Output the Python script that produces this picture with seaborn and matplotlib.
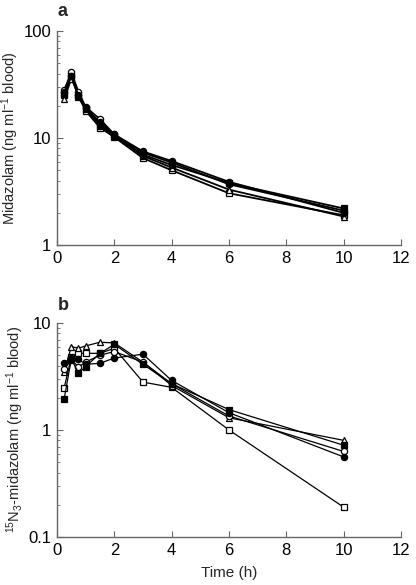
import numpy as np
import pandas as pd
import matplotlib
matplotlib.use("Agg")
import matplotlib.pyplot as plt
import seaborn as sns

sns.set_theme(style="ticks")
plt.rcParams['font.family'] = ['Liberation Sans', 'DejaVu Sans']
plt.rcParams['mathtext.fontset'] = 'custom'
plt.rcParams['mathtext.rm'] = 'Liberation Sans'
plt.rcParams['mathtext.it'] = 'Liberation Sans'

time_h = [0.25, 0.5, 0.75, 1, 1.5, 2, 3, 4, 6, 10]
subjects = ["filled circle", "open circle", "filled square", "open square", "open triangle"]

# Panel a: midazolam (ng/ml blood)
mdz_filled_circle = [27, 38, 25, 19, 14, 10.8, 7.5, 6.1, 3.9, 2.0]
mdz_open_circle   = [28, 41, 27, 19.5, 15, 10.8, 7.3, 5.9, 3.7, 2.1]
mdz_filled_square = [26, 38, 24, 18.5, 13, 10.5, 7.0, 5.6, 3.8, 2.2]
mdz_open_square   = [25, 37, 25, 18, 12.5, 10.2, 6.5, 5.0, 3.05, 1.9]
mdz_open_triangle = [23, 36, 26, 19, 13.5, 10.5, 6.8, 5.3, 3.3, 1.85]

# Panel b: 15N3-midazolam (ng/ml blood)
n15_filled_circle = [4.2, 4.7, 4.6, 4.1, 4.2, 4.7, 5.1, 2.9, 1.45, 0.56]
n15_open_circle   = [3.7, 4.5, 3.9, 4.3, 5.0, 5.4, 4.3, 2.7, 1.35, 0.63]
n15_filled_square = [1.95, 4.6, 3.4, 3.9, 5.2, 6.3, 4.1, 2.7, 1.55, 0.72]
n15_open_square   = [2.47, 4.8, 5.2, 5.2, 5.2, 5.8, 2.8, 2.5, 1.0, 0.19]
n15_open_triangle = [3.5, 6.0, 5.8, 6.1, 6.6, 6.5, 4.3, 2.6, 1.3, 0.8]

panel_a = [mdz_open_square, mdz_open_triangle, mdz_open_circle, mdz_filled_square, mdz_filled_circle]
panel_b = [n15_open_square, n15_open_triangle, n15_open_circle, n15_filled_square, n15_filled_circle]
order = ["open square", "open triangle", "open circle", "filled square", "filled circle"]
marker_of = {"filled circle": ("o", "black"), "open circle": ("o", "white"),
             "filled square": ("s", "black"), "open square": ("s", "white"),
             "open triangle": ("^", "white")}

fig = plt.figure(figsize=(4.16, 5.85), dpi=100)
ax_a = fig.add_axes([0.137, 0.581, 0.827, 0.366])
ax_b = fig.add_axes([0.137, 0.082, 0.827, 0.366])

def draw(ax, series, lw):
    for name, vals in zip(order, series):
        df = pd.DataFrame({"t": time_h, "c": vals})
        m, fc = marker_of[name]
        sns.lineplot(data=df, x="t", y="c", ax=ax, color="black", linewidth=lw,
                     marker=m, markersize=4.5 if m != "^" else 5,
                     markerfacecolor=fc, markeredgecolor="black", markeredgewidth=0.9,
                     legend=False)
    ax.set_yscale("log")
    ax.set_xlim(0, 12)
    ax.set_xticks([0, 2, 4, 6, 8, 10, 12])
    for s in ["top", "right"]:
        ax.spines[s].set_visible(False)
    for s in ["left", "bottom"]:
        ax.spines[s].set_color("#666666")
        ax.spines[s].set_linewidth(1.0)
    ax.tick_params(axis="both", which="both", direction="in", colors="#666666",
                   labelcolor="black", labelsize=12)
    ax.tick_params(axis="both", which="major", length=4, width=0.8, pad=4)
    ax.tick_params(axis="y", which="minor", length=2.5, width=0.6)
    ax.set_xlabel("")
    ax.yaxis.set_major_formatter(matplotlib.ticker.FuncFormatter(lambda v, p: f"{v:g}"))
    ax.yaxis.set_minor_formatter(matplotlib.ticker.NullFormatter())

draw(ax_a, panel_a, 1.3)
ax_a.set_ylim(1, 100)
ax_a.set_ylabel("Midazolam (ng ml$^{-1}$ blood)", fontsize=10.5, labelpad=2)
fig.text(63/416, 1 - 12/585, "a", fontsize=13, fontweight="bold", ha="center", va="center")

draw(ax_b, panel_b, 0.9)
ax_b.set_ylim(0.1, 10)
ax_b.set_ylabel("$^{15}$N$_3$-midazolam (ng ml$^{-1}$ blood)", fontsize=10.5, labelpad=2)
ax_b.set_xlabel("Time (h)", fontsize=11, labelpad=6)
fig.text(63/416, 1 - 305/585, "b", fontsize=13, fontweight="bold", ha="center", va="center")

fig.savefig("out.png", dpi=100)
